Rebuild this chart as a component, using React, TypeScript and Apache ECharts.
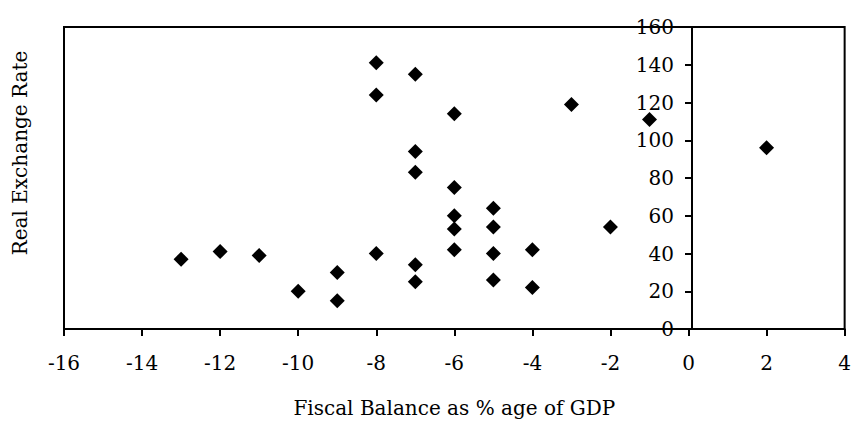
import React, { useEffect, useRef } from "react";
import * as echarts from "echarts";

const fiscalBalance = [
  -13, -12, -11, -10, -9, -9, -8, -8, -8, -7, -7, -7, -7, -7,
  -6, -6, -6, -6, -6, -5, -5, -5, -5, -4, -4, -3, -2, -1, 2,
];
const realExchangeRate = [
  37, 41, 39, 20, 30, 15, 141, 124, 40, 135, 94, 83, 34, 25,
  114, 75, 60, 53, 42, 64, 54, 40, 26, 42, 22, 119, 54, 111, 96,
];
const xTitle = "Fiscal Balance as % age of GDP";
const yTitle = "Real Exchange Rate";

const FONT = "'DejaVu Serif', 'Liberation Serif', serif";

const GRID_LEFT = 64;
const GRID_RIGHT = 5;
const W = 854;
const X_MIN = -16;
const X_MAX = 4;

export default function App() {
  const ref = useRef<HTMLDivElement>(null);
  useEffect(() => {
    if (!ref.current) return;
    const chart = echarts.init(ref.current, undefined, { renderer: "svg" });
    const points = fiscalBalance.map((x, i) => [x, realExchangeRate[i]]);
    const gridW = W - GRID_LEFT - GRID_RIGHT;
    const zeroOffset = ((0 - X_MIN) / (X_MAX - X_MIN)) * gridW;
    chart.setOption({
      animation: false,
      backgroundColor: "#ffffff",
      grid: {
        left: GRID_LEFT,
        right: GRID_RIGHT,
        top: 27,
        bottom: 103,
        show: true,
        borderColor: "#000",
        borderWidth: 2,
        backgroundColor: "transparent",
      },
      xAxis: {
        type: "value",
        min: X_MIN,
        max: X_MAX,
        interval: 2,
        name: xTitle,
        nameLocation: "middle",
        nameGap: 69,
        nameTextStyle: { fontFamily: FONT, fontSize: 20, color: "#000" },
        axisLine: { onZero: false, lineStyle: { color: "#000", width: 2 } },
        axisTick: { show: true, inside: false, length: 7, lineStyle: { color: "#000", width: 2 } },
        axisLabel: { fontFamily: FONT, fontSize: 20, color: "#000", margin: 24 },
        splitLine: { show: false },
      },
      yAxis: {
        type: "value",
        min: 0,
        max: 160,
        interval: 20,
        position: "left",
        offset: -zeroOffset,
        axisLine: { show: true, onZero: false, lineStyle: { color: "#000", width: 2 } },
        axisTick: { show: true, inside: false, length: 7, lineStyle: { color: "#000", width: 2 } },
        axisLabel: { fontFamily: FONT, fontSize: 20, color: "#000", margin: 18 },
        splitLine: { show: false },
      },
      graphic: [
        {
          type: "text",
          x: 20,
          y: 153,
          rotation: Math.PI / 2,
          style: {
            text: yTitle,
            fontFamily: FONT,
            fontSize: 20,
            fill: "#000",
            align: "center",
            verticalAlign: "middle",
          },
        },
      ],
      series: [
        {
          type: "scatter",
          data: points,
          symbol: "diamond",
          symbolSize: 15,
          itemStyle: { color: "#000", opacity: 1 },
        },
      ],
    });
    return () => chart.dispose();
  }, []);
  return (
    <div
      ref={ref}
      style={{ position: "fixed", left: 0, top: 0, width: W, height: 432 }}
    />
  );
}
